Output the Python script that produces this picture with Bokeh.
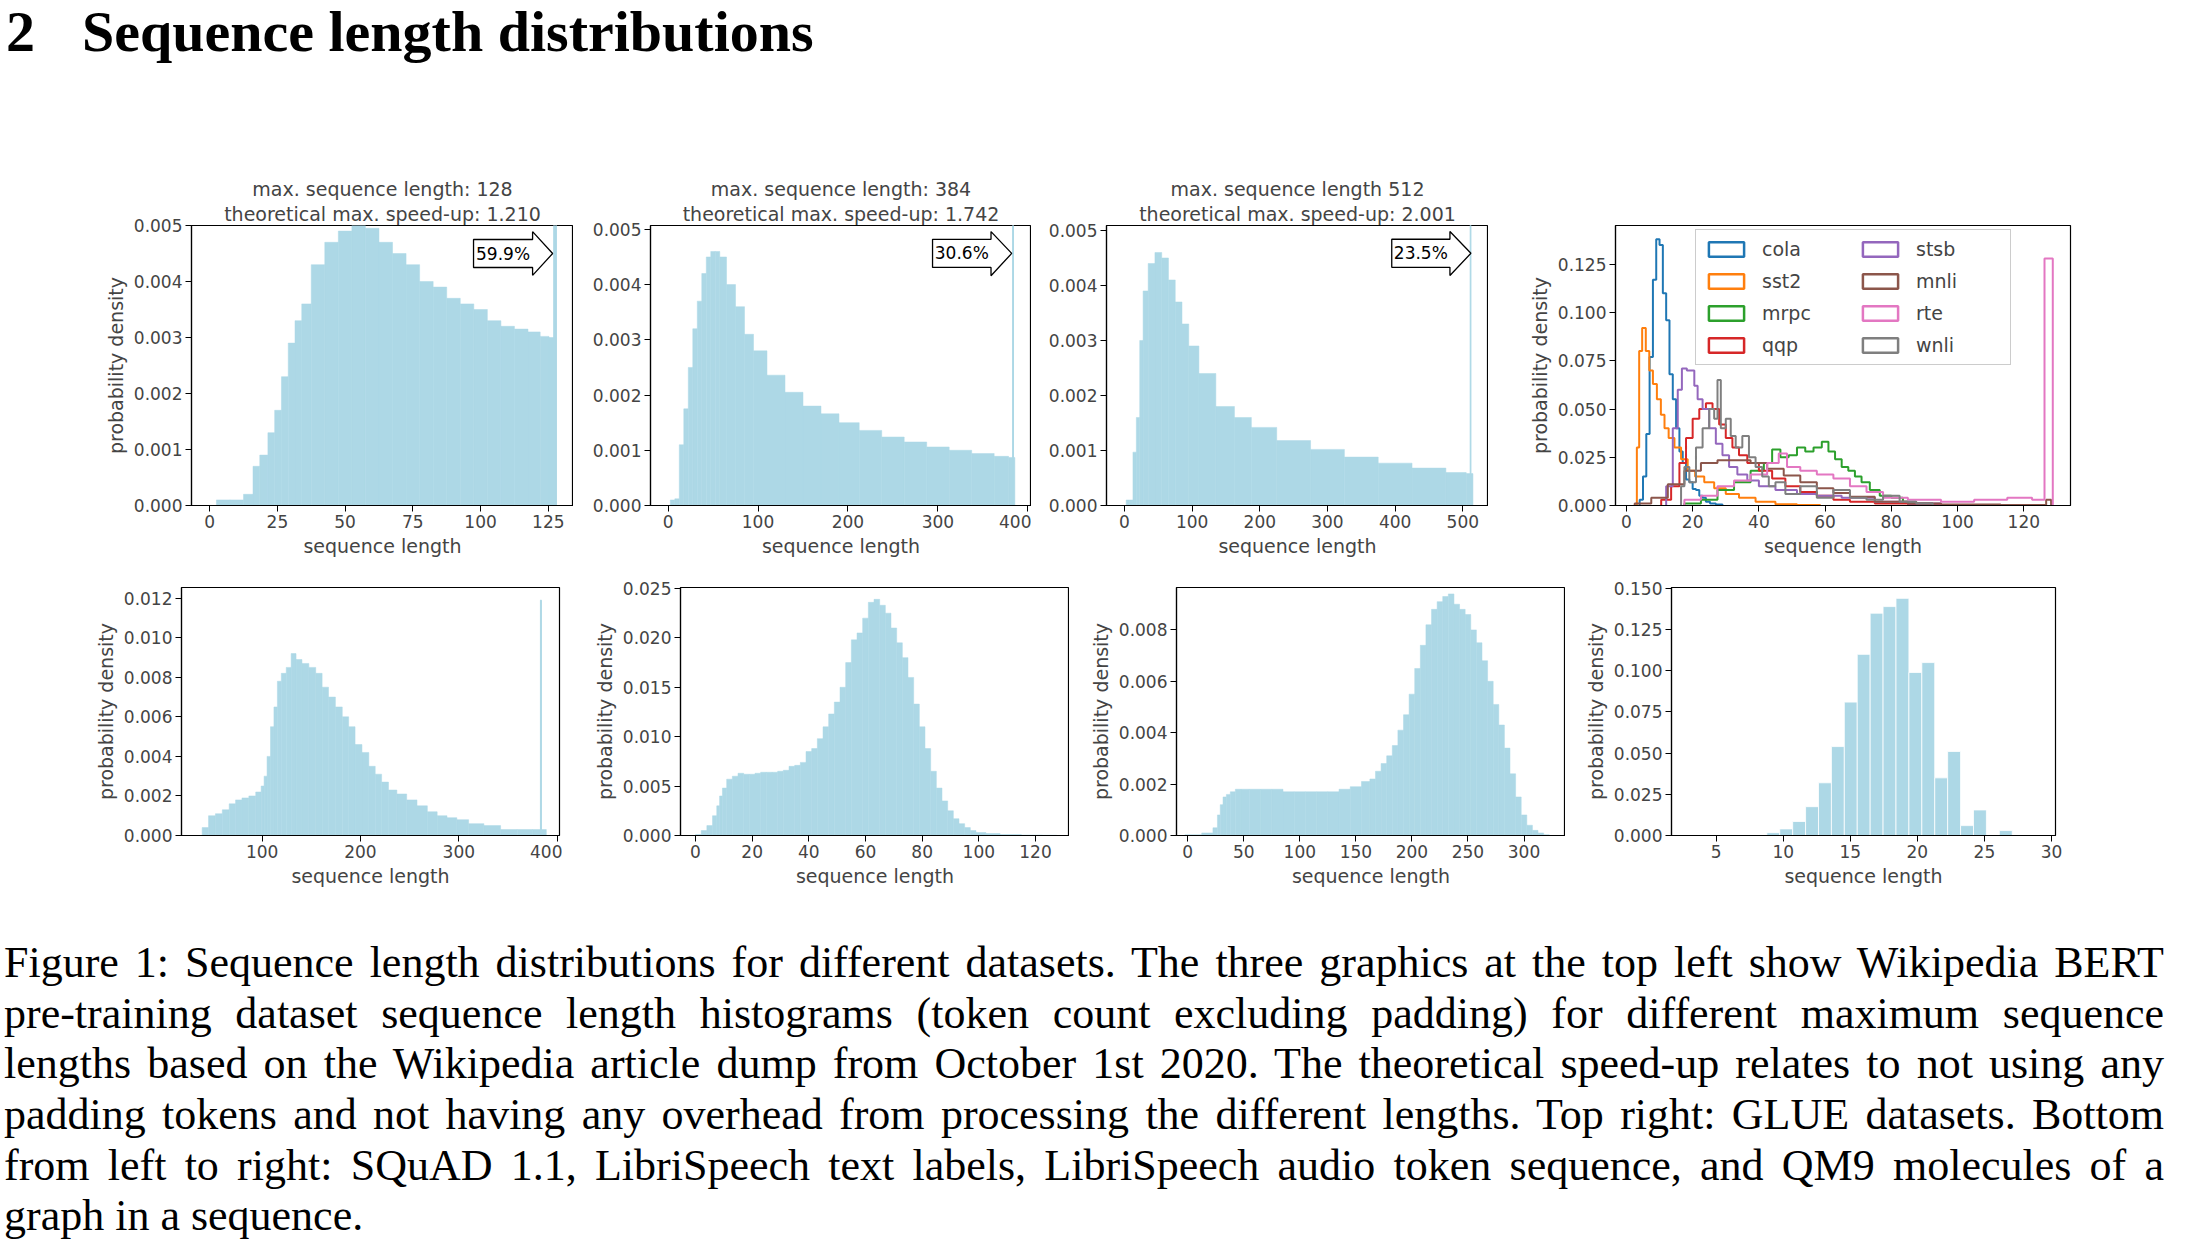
import numpy as np
from bokeh.plotting import figure
from bokeh.layouts import column, row
from bokeh.models import Div, FixedTicker, PrintfTickFormatter, Range1d, Legend, LegendItem, Title
from bokeh.embed import file_html
from bokeh.resources import INLINE

# ---------------- data ----------------
w128_x = [5, 10, 15, 17, 20, 23, 25, 28, 30, 33, 35, 40, 45, 50, 55, 60, 65, 70, 75, 80, 85, 90, 95, 100, 105, 110, 115, 120, 124, 126.5]
w128_y = [0.0001, 0.0001, 0.0002, 0.0007, 0.0009, 0.0013, 0.0017, 0.0023, 0.0029, 0.0033, 0.0036, 0.0043, 0.0047, 0.0049, 0.0050, 0.00495, 0.0047, 0.0045, 0.0043, 0.0040, 0.0039, 0.0037, 0.0036, 0.0035, 0.0033, 0.0032, 0.00315, 0.0031, 0.00302, 0.0030]
w128_spike = [128, 0.006]

w384_x = [5, 10, 15, 20, 25, 30, 35, 40, 45, 50, 55, 60, 70, 80, 90, 100, 120, 140, 160, 180, 200, 225, 250, 275, 300, 325, 350, 375, 382]
w384_y = [0.0001, 0.00012, 0.0011, 0.00175, 0.0025, 0.0032, 0.0037, 0.0042, 0.0045, 0.0046, 0.0046, 0.0045, 0.0040, 0.0036, 0.0031, 0.0028, 0.00236, 0.00205, 0.0018, 0.00166, 0.0015, 0.00136, 0.00124, 0.00115, 0.00106, 0.0010, 0.00094, 0.00089, 0.00087]
w384_spike = [384, 0.006]

w512_x = [5, 10, 15, 20, 25, 30, 40, 50, 60, 70, 80, 90, 100, 120, 150, 175, 200, 250, 300, 350, 400, 450, 500, 510]
w512_y = [0.0001, 0.0001, 0.00097, 0.0016, 0.0030, 0.0039, 0.0044, 0.0046, 0.0045, 0.0041, 0.0037, 0.0033, 0.0029, 0.0024, 0.0018, 0.0016, 0.00142, 0.00118, 0.00102, 0.00088, 0.00077, 0.00068, 0.0006, 0.00058]
w512_spike = [512, 0.006]

glue_names = ["cola", "sst2", "mrpc", "qqp", "stsb", "mnli", "rte", "wnli"]
glue_colors = ["#1f77b4", "#ff7f0e", "#2ca02c", "#d62728", "#9467bd", "#8c564b", "#e377c2", "#7f7f7f"]
glue_x = {
    "cola": [4.5, 5.5, 6.5, 7.5, 8.5, 9.5, 10.5, 11.5, 12.5, 13.5, 14.5, 15.5, 16.5, 17.5, 18.5, 19.5, 20.5, 21.5, 22.5, 23.5, 24.5, 26, 28],
    "sst2": [3.5, 4.2, 5.3, 6.4, 7.4, 8.6, 9.8, 11, 12, 13.5, 15.5, 17.5, 19.5, 22, 25, 28, 32, 36, 42, 48, 55],
    "mrpc": [20, 25, 30, 35, 40, 43, 45, 48, 50, 53, 55, 58, 60, 62, 64, 66, 68, 70, 72, 75, 78, 82, 85, 90, 95],
    "qqp": [12, 15, 17, 19, 21, 23, 25, 27, 29, 31, 33, 35, 38, 42, 46, 50, 55, 60, 65, 70, 80, 90],
    "stsb": [13, 15, 16, 17.5, 19, 20, 21, 22, 24, 26, 28, 30, 32, 35, 38, 42, 48, 55, 60, 70, 80, 90],
    "mnli": [5, 10, 15, 20, 25, 30, 35, 40, 45, 50, 55, 60, 65, 70, 80, 90, 100, 126, 127.5],
    "rte": [20, 25, 30, 35, 40, 45, 47, 50, 55, 60, 65, 70, 75, 80, 90, 100, 110, 120, 125, 127.5],
    "wnli": [17, 18, 20, 22, 24, 26, 27, 28, 29, 31, 32, 34, 36, 38, 40, 42, 44, 46, 50, 55, 60, 65, 70, 75, 80, 85, 90],
}
glue_y = {
    "cola": [0.003, 0.015, 0.037, 0.077, 0.117, 0.138, 0.135, 0.11, 0.096, 0.068, 0.055, 0.04, 0.028, 0.022, 0.0135, 0.012, 0.0086, 0.008, 0.005, 0.004, 0.002, 0.001, 0.0005],
    "sst2": [0.03, 0.08, 0.092, 0.08, 0.07, 0.063, 0.055, 0.047, 0.04, 0.035, 0.03, 0.024, 0.018, 0.015, 0.012, 0.009, 0.006, 0.004, 0.002, 0.0007, 0.0002],
    "mrpc": [0.001, 0.003, 0.008, 0.012, 0.018, 0.022, 0.029, 0.025, 0.026, 0.030, 0.028, 0.030, 0.033, 0.028, 0.024, 0.020, 0.018, 0.015, 0.012, 0.008, 0.005, 0.004, 0.002, 0.001, 0.0003],
    "qqp": [0.003, 0.01, 0.022, 0.035, 0.045, 0.05, 0.053, 0.05, 0.042, 0.035, 0.03, 0.026, 0.022, 0.018, 0.014, 0.01, 0.007, 0.005, 0.003, 0.002, 0.001, 0.0005],
    "stsb": [0.01, 0.04, 0.06, 0.071, 0.07, 0.07, 0.062, 0.055, 0.05, 0.04, 0.032, 0.026, 0.02, 0.016, 0.013, 0.01, 0.008, 0.006, 0.005, 0.004, 0.002, 0.001],
    "mnli": [0.001, 0.004, 0.011, 0.018, 0.022, 0.0235, 0.0235, 0.022, 0.019, 0.0155, 0.012, 0.009, 0.0065, 0.0045, 0.002, 0.001, 0.0005, 0.0003, 0.003],
    "rte": [0.003, 0.005, 0.01, 0.013, 0.016, 0.022, 0.027, 0.02, 0.018, 0.016, 0.014, 0.01, 0.007, 0.004, 0.003, 0.002, 0.003, 0.004, 0.003, 0.128],
    "wnli": [0.01, 0.02, 0.012, 0.03, 0.04, 0.05, 0.045, 0.065, 0.04, 0.045, 0.036, 0.03, 0.036, 0.025, 0.02, 0.015, 0.01, 0.012, 0.006, 0.01, 0.004, 0.008, 0.004, 0.003, 0.005, 0.002, 0.001],
}

squad_x = [36, 42, 49, 56, 63, 70, 76, 83, 90, 97, 101, 103, 107, 110, 114, 117, 122, 127, 132, 137, 144, 151, 158, 164, 171, 178, 185, 191, 198, 205, 212, 218, 225, 232, 242, 252, 263, 273, 283, 293, 303, 317, 334, 351, 368, 382]
squad_y = [0.0, 0.0004, 0.001, 0.0011, 0.0013, 0.0016, 0.0018, 0.0019, 0.002, 0.0022, 0.0025, 0.003, 0.004, 0.0055, 0.0065, 0.0078, 0.0082, 0.0085, 0.0092, 0.0089, 0.0087, 0.0085, 0.0082, 0.0075, 0.007, 0.0065, 0.006, 0.0055, 0.0046, 0.0042, 0.0035, 0.0031, 0.0027, 0.0023, 0.0021, 0.0018, 0.0015, 0.0012, 0.001, 0.0009, 0.0008, 0.0006, 0.0005, 0.0003, 0.0003, 0.0003]
squad_spike = [384, 0.0119]

ltext_x = [1, 3, 5, 7, 8, 9, 10, 12, 14, 16, 18, 20, 22, 24, 26, 28, 30, 32, 34, 36, 38, 40, 42, 44, 46, 48, 50, 52, 54, 56, 58, 60, 62, 64, 66, 68, 70, 72, 74, 76, 78, 80, 82, 84, 86, 88, 90, 92, 94, 96, 98, 100, 105, 110, 120, 125]
ltext_y = [0.0001, 0.0005, 0.001, 0.002, 0.003, 0.004, 0.0048, 0.0057, 0.006, 0.0063, 0.0062, 0.0062, 0.0063, 0.0064, 0.0064, 0.0064, 0.0065, 0.0066, 0.007, 0.0071, 0.0074, 0.0085, 0.0088, 0.0098, 0.011, 0.0123, 0.0135, 0.015, 0.0175, 0.0198, 0.0205, 0.022, 0.0236, 0.0239, 0.0233, 0.0225, 0.021, 0.0195, 0.018, 0.016, 0.0133, 0.011, 0.0088, 0.0065, 0.0048, 0.0035, 0.0025, 0.0017, 0.0012, 0.0008, 0.0005, 0.0003, 0.0002, 0.0001, 0.00005, 0.00003]

laudio_x = [5, 20, 25, 28, 30, 33, 36, 40, 45, 50, 60, 70, 80, 90, 100, 110, 120, 130, 140, 150, 160, 165, 170, 175, 180, 185, 190, 195, 200, 205, 210, 215, 220, 225, 230, 235, 240, 245, 250, 255, 260, 265, 270, 275, 280, 285, 290, 295, 300, 305, 310, 315, 320]
laudio_y = [0.00003, 0.0001, 0.0003, 0.0008, 0.0012, 0.0015, 0.0016, 0.0017, 0.0018, 0.0018, 0.0018, 0.0018, 0.0018, 0.0017, 0.0017, 0.0017, 0.0017, 0.0017, 0.0018, 0.0019, 0.0021, 0.0022, 0.0025, 0.0028, 0.0031, 0.0035, 0.0041, 0.0047, 0.0055, 0.0065, 0.0074, 0.0082, 0.0088, 0.0091, 0.0093, 0.0094, 0.0090, 0.0088, 0.0086, 0.0080, 0.0075, 0.0068, 0.0060, 0.0051, 0.0043, 0.0034, 0.0024, 0.0015, 0.0008, 0.0004, 0.0002, 0.0001, 0.00003]

qm9_edges = [3.0, 29.0, 27]
qm9_y = [0.0003, 0.0003, 0.0003, 0.0003, 0.0003, 0.0003, 0.0017, 0.004, 0.0085, 0.0175, 0.032, 0.054, 0.081, 0.110, 0.135, 0.139, 0.144, 0.099, 0.105, 0.035, 0.051, 0.006, 0.0155, 0.0, 0.003, 0.0003, 0.0003]

arrow_labels = ["59.9%", "30.6%", "23.5%"]
# arrow shapes: [box_left, box_right, tip_x, box_bottom, box_top, head_bottom, head_top]
arrow_shapes = [
    [97.4, 119.2, 126.6, 0.00425, 0.00475, 0.00411, 0.00489],
    [294, 359, 382, 0.00431, 0.00482, 0.00416, 0.00496],
    [395, 481, 512, 0.00433, 0.00484, 0.00418, 0.00498],
]

HIST = "#add8e6"
FONT = "DejaVu Sans"


def bins(xc):
    c = np.asarray(xc, dtype=float)
    mids = (c[1:] + c[:-1]) / 2
    left = np.concatenate([[c[0] - (mids[0] - c[0])], mids])
    right = np.concatenate([mids, [c[-1] + (c[-1] - mids[-1])]])
    return left, right


def make_fig(width, height, L, R, T, B, xr, yr, xticks, yticks, ylabel=True, title=None):
    p = figure(width=width, height=height, output_backend="svg", toolbar_location=None,
               x_range=Range1d(*xr), y_range=Range1d(*yr),
               min_border_left=L, min_border_right=R, min_border_top=T, min_border_bottom=B)
    p.grid.visible = False
    p.outline_line_color = "black"
    p.outline_line_width = 1.2
    for ax in (p.xaxis[0], p.yaxis[0]):
        ax.axis_line_color = "black"
        ax.axis_line_width = 1.2
        ax.major_tick_out = 6
        ax.major_tick_in = 0
        ax.minor_tick_line_color = None
        ax.major_label_text_font = FONT
        ax.major_label_text_font_size = "17px"
        ax.axis_label_text_font = FONT
        ax.axis_label_text_font_size = "19px"
        ax.axis_label_text_font_style = "normal"
        ax.axis_label_standoff = 4
        ax.major_label_standoff = 3
    p.xaxis.ticker = FixedTicker(ticks=xticks)
    p.yaxis.ticker = FixedTicker(ticks=yticks)
    p.yaxis.formatter = PrintfTickFormatter(format="%.3f")
    p.xaxis.axis_label = "sequence length"
    if ylabel:
        p.yaxis.axis_label = "probability density"
    if title:
        for k, line in enumerate(reversed(title)):
            t = Title(text=line, align="center", text_font=FONT, text_font_size="19px",
                      text_font_style="normal", standoff=2 if k == 0 else 0)
            p.add_layout(t, "above")
    return p


def hist(p, xc, yv, spike=None):
    l, r = bins(xc)
    p.quad(left=l, right=r, bottom=0, top=yv, fill_color=HIST, line_color=HIST, line_width=0.5)
    if spike:
        p.quad(left=[spike[0] - 1], right=[spike[0]], bottom=[0], top=[spike[1]],
               fill_color=HIST, line_color=HIST)


def arrow(p, shape, label):
    bl, br, tip, bb, bt, hb, ht = shape
    ym = (bb + bt) / 2
    xs = [bl, br, br, tip, br, br, bl]
    ys = [bb, bb, hb, ym, ht, bt, bt]
    p.patch(xs, ys, fill_color="white", line_color="black", line_width=1.3)
    p.text(x=[(bl + br) / 2], y=[ym], text=[label], text_align="center", text_baseline="middle",
           text_font_size="17px", text_color="black", text_font={"value": FONT})


# ---------------- top row ----------------
yt_top = [0, 0.001, 0.002, 0.003, 0.004, 0.005]
f1 = make_fig(573, 440, 191, 0, 93, 67, (-6.7, 134.3), (0, 0.005), [0, 25, 50, 75, 100, 125], yt_top,
              title=["max. sequence length: 128", "theoretical max. speed-up: 1.210"])
hist(f1, w128_x, w128_y, w128_spike)
arrow(f1, arrow_shapes[0], arrow_labels[0])

f2 = make_fig(458, 440, 77, 0, 93, 67, (-19.5, 404), (0, 0.00507), [0, 100, 200, 300, 400], yt_top, ylabel=False,
              title=["max. sequence length: 384", "theoretical max. speed-up: 1.742"])
hist(f2, w384_x, w384_y, w384_spike)
arrow(f2, arrow_shapes[1], arrow_labels[1])

f3 = make_fig(457, 440, 75, 0, 93, 67, (-26.6, 538), (0, 0.00509), [0, 100, 200, 300, 400, 500], yt_top, ylabel=False,
              title=["max. sequence length 512", "theoretical max. speed-up: 2.001"])
hist(f3, w512_x, w512_y, w512_spike)
arrow(f3, arrow_shapes[2], arrow_labels[2])

f4 = make_fig(642, 440, 127, 60, 80, 67, (-3.3, 134.1), (0, 0.1451), [0, 20, 40, 60, 80, 100, 120],
              [0, 0.025, 0.05, 0.075, 0.1, 0.125])
items = []
for name, col in zip(glue_names, glue_colors):
    l, r = bins(glue_x[name])
    yv = glue_y[name]
    xs, ys = [l[0]], [0.0]
    for a, b, v in zip(l, r, yv):
        xs += [a, b]
        ys += [v, v]
    xs.append(r[-1]); ys.append(0.0)
    f4.line(xs, ys, line_color=col, line_width=2)
    # legend swatch: a box kept outside the visible x range
    dummy = f4.quad(left=[-60], right=[-50], bottom=[0], top=[0.01], fill_alpha=0, line_color=col, line_width=2.5)
    items.append(LegendItem(label=name, renderers=[dummy]))
leg = Legend(items=items, ncols=2, location=(80, 140), label_text_font=FONT, label_text_font_size="19px",
             glyph_width=44, glyph_height=18, label_width=86, label_standoff=14, spacing=10,
             padding=8, border_line_color="#cccccc", border_line_alpha=1.0, background_fill_alpha=0.8,
             margin=0)
f4.add_layout(leg, "center")

# ---------------- bottom row ----------------
g1 = make_fig(562, 330, 181, 3, 15, 67, (18, 402.4), (0, 0.01254), [100, 200, 300, 400],
              [0, 0.002, 0.004, 0.006, 0.008, 0.010, 0.012])
hist(g1, squad_x, squad_y, squad_spike)

g2 = make_fig(507, 330, 118, 0, 15, 67, (-5.3, 132), (0, 0.0251), [0, 20, 40, 60, 80, 100, 120],
              [0, 0.005, 0.010, 0.015, 0.020, 0.025])
hist(g2, ltext_x, ltext_y)

g3 = make_fig(496, 330, 107, 0, 15, 67, (-10, 337), (0, 0.00965), [0, 50, 100, 150, 200, 250, 300],
              [0, 0.002, 0.004, 0.006, 0.008])
hist(g3, laudio_x, laudio_y)

g4 = make_fig(550, 330, 106, 60, 15, 67, (1.67, 30.3), (0, 0.1506), [5, 10, 15, 20, 25, 30],
              [0, 0.025, 0.05, 0.075, 0.1, 0.125, 0.15])
qe = np.linspace(qm9_edges[0], qm9_edges[1], qm9_edges[2] + 1)
g4.quad(left=qe[:-1], right=qe[1:], bottom=0, top=qm9_y, fill_color=HIST, line_color="white", line_width=0.8)

# ---------------- text ----------------
heading = Div(text='<div style="font-family:\'Liberation Serif\'; font-weight:bold; '
                   'font-size:58px; line-height:1.1; white-space:nowrap; color:black">'
                   '<span style="display:inline-block; width:82px; padding-left:6px">2</span>Sequence length distributions</div>',
              width=2150, height=132, margin=0)

cap_lines = [
    "Figure 1: Sequence length distributions for different datasets. The three graphics at the top left show Wikipedia BERT",
    "pre-training dataset sequence length histograms (token count excluding padding) for different maximum sequence",
    "lengths based on the Wikipedia article dump from October 1st 2020. The theoretical speed-up relates to not using any",
    "padding tokens and not having any overhead from processing the different lengths. Top right: GLUE datasets. Bottom",
    "from left to right: SQuAD 1.1, LibriSpeech text labels, LibriSpeech audio token sequence, and QM9 molecules of a",
    "graph in a sequence.",
]
html = ""
for i, ln in enumerate(cap_lines):
    last = "left" if i == len(cap_lines) - 1 else "justify"
    html += (f'<div style="text-align:justify; text-align-last:{last}; white-space:nowrap; '
             f'height:50.7px; line-height:50.7px">{ln}</div>')
caption = Div(text=f'<div style="font-family:\'Liberation Serif\'; font-size:44px; color:black; '
                   f'width:2164px; padding-left:4px; padding-top:36px">{html}</div>',
              width=2175, height=320, margin=0)

layout = column(heading, row(f1, f2, f3, f4, spacing=0), row(g1, g2, g3, g4, spacing=0), caption, spacing=0)
open("out.html", "w").write(file_html(layout, INLINE))
